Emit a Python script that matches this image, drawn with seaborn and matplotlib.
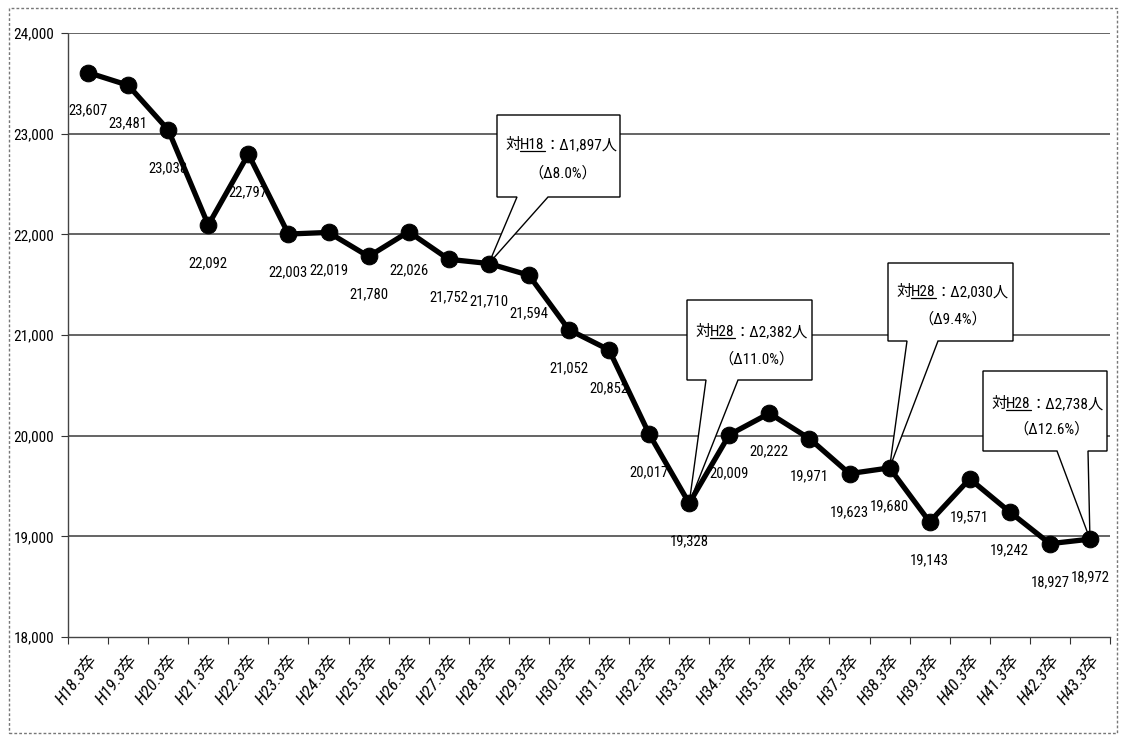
import os
import matplotlib
matplotlib.use('Agg')
import matplotlib.pyplot as plt
import seaborn as sns
import pandas as pd
import numpy as np
from matplotlib import font_manager
from matplotlib.patches import Polygon, Rectangle
from matplotlib.lines import Line2D

# ---------------- data ----------------
categories = ["H18.3卒", "H19.3卒", "H20.3卒", "H21.3卒", "H22.3卒", "H23.3卒",
              "H24.3卒", "H25.3卒", "H26.3卒", "H27.3卒", "H28.3卒", "H29.3卒",
              "H30.3卒", "H31.3卒", "H32.3卒", "H33.3卒", "H34.3卒", "H35.3卒",
              "H36.3卒", "H37.3卒", "H38.3卒", "H39.3卒", "H40.3卒", "H41.3卒",
              "H42.3卒", "H43.3卒"]
values = [23607, 23481, 23038, 22092, 22797, 22003, 22019, 21780, 22026, 21752,
          21710, 21594, 21052, 20852, 20017, 19328, 20009, 20222, 19971, 19623,
          19680, 19143, 19571, 19242, 18927, 18972]
y_ticks = [18000, 19000, 20000, 21000, 22000, 23000, 24000]

callout_idx = [10, 15, 20, 25]
callout_base = ["H18", "H28", "H28", "H28"]
callout_diff = ["Δ1,897人", "Δ2,382人", "Δ2,030人", "Δ2,738人"]
callout_pct = ["（Δ8.0%）", "（Δ11.0%）", "（Δ9.4%）", "（Δ12.6%）"]

# ------------- layout (reference pixel coords) -------------
W, H = 1122, 736
# box: left, top, right, bottom, wedge base x1, x2, text-left, line1 baseline, line2 center x, line2 baseline
callout_layout = [
    (497, 115, 620, 197, 517, 548, 505, 149, 563, 178),
    (687, 300, 812, 380, 706, 738, 695, 336, 756, 364),
    (888, 263, 1013, 341, 907, 938, 896, 296, 953, 324),
    (983, 371, 1107, 451, 1057, 1088, 991, 408, 1052, 434),
]

sns.set_theme(style='white')

# ---- look for a condensed / narrow sans font ----
pref = ['liberation sans narrow', 'roboto condensed', 'open sans condensed',
        'noto sans', 'dejavu sans', 'open sans', 'roboto', 'lato', 'inter']
cands = []
for f in font_manager.fontManager.ttflist:
    low = (f.name + ' ' + os.path.basename(f.fname)).lower()
    st = str(f.stretch)
    if f.style != 'normal' or 'mono' in low or 'cjk' in low:
        continue
    if f.weight not in (400, 'normal', 'regular', 'book'):
        continue
    if 'narrow' in low or 'condensed' in low or st in ('condensed', 'semi-condensed', 'extra-condensed'):
        rank = len(pref)
        for r, p in enumerate(pref):
            if f.name.lower().startswith(p):
                rank = r
                break
        cands.append((rank, f.name, st))
cands.sort()
if cands:
    MAIN, STRETCH = cands[0][1], cands[0][2]
    if STRETCH in ('normal', '500', 'medium'):
        STRETCH = 'condensed'
    CONDENSED = True
else:
    MAIN, STRETCH, CONDENSED = 'Liberation Sans', 'normal', False

plt.rcParams['font.family'] = [MAIN, 'Noto Sans CJK JP', 'DejaVu Sans']
plt.rcParams['font.stretch'] = STRETCH

num_fs = 10.5 if CONDENSED else 9.5
tick_fs = 11 if CONDENSED else 10
xtick_fs = 12.5 if CONDENSED else 11
call_fs = 11 if CONDENSED else 10

fig = plt.figure(figsize=(W / 100, H / 100), dpi=100)
fig.patch.set_facecolor('white')
ax = fig.add_axes([68 / W, 1 - 637 / H, (1110 - 68) / W, (637 - 33) / H])
ax.set_facecolor('white')

df = pd.DataFrame({'x': np.arange(len(categories)), 'y': values})
sns.lineplot(data=df, x='x', y='y', ax=ax, color='black', lw=3.8,
             marker='o', markersize=12, markeredgecolor='black',
             markerfacecolor='black', zorder=5)

ax.set_xlim(-0.5, len(categories) - 0.5)
ax.set_ylim(y_ticks[0], y_ticks[-1])
ax.set_yticks(y_ticks)
ax.set_yticklabels([f"{v:,}" for v in y_ticks], fontsize=tick_fs, color='black')
ax.set_xticks(np.arange(len(categories)))
ax.set_xticklabels(categories, rotation=52, ha='right', rotation_mode='anchor',
                   fontstyle='italic', fontsize=xtick_fs, color='black')
ax.set_xticks(np.arange(-0.5, len(categories)), minor=True)
ax.tick_params(axis='x', which='major', bottom=True, length=0, pad=11)
ax.tick_params(axis='x', which='minor', bottom=True, length=5, width=0.8,
               color='#333333', direction='out')
ax.tick_params(axis='y', left=True, length=5, width=0.8, color='#333333',
               direction='out', pad=5)
ax.set_xlabel('')
ax.set_ylabel('')
ax.grid(False)
for v in y_ticks[1:]:
    ax.axhline(v, color='#3a3a3a', lw=1.1, zorder=1)
for s in ['top', 'right']:
    ax.spines[s].set_visible(False)
for s in ['left', 'bottom']:
    ax.spines[s].set_color('#444444')
    ax.spines[s].set_linewidth(1.0)
    ax.spines[s].set_linestyle((0, (2, 1)))

# data labels
for i, v in enumerate(values):
    ax.annotate(f"{v:,}", (i, v), xytext=(0, -27.5), textcoords='offset points',
                ha='center', va='center', fontsize=num_fs, color='black', zorder=6)

# figure border
fig.patches.append(Rectangle((9 / W, 1 - 733 / H), (1117 - 9) / W, (733 - 8) / H,
                             transform=fig.transFigure, fill=False,
                             edgecolor='#777777', lw=1.0, linestyle=(0, (2, 1.5))))

def pf(x, y):
    return x / W, 1 - y / H

renderer = fig.canvas.get_renderer()
for k, idx in enumerate(callout_idx):
    L, T, R, B, w1, w2, tx, by1, cx2, by2 = callout_layout[k]
    tip_disp = ax.transData.transform((idx, values[idx]))
    tip = fig.transFigure.inverted().transform(tip_disp)
    pts = [pf(L, T), pf(R, T), pf(R, B), pf(w2, B), tuple(tip), pf(w1, B), pf(L, B)]
    ax.add_patch(Polygon(pts, closed=True, transform=fig.transFigure,
                         facecolor='white', edgecolor='black', lw=1.0,
                         zorder=4, clip_on=False))
    x = tx
    for j, piece in enumerate(["対", callout_base[k], "：" + callout_diff[k]]):
        t = ax.text(*pf(x, by1), piece, transform=fig.transFigure, ha='left',
                    va='baseline', fontsize=call_fs, color='black', zorder=7)
        bb = t.get_window_extent(renderer)
        if j == 1:
            ax.add_line(Line2D([bb.x0 / W, bb.x1 / W],
                               [(H - by1 - 2) / H, (H - by1 - 2) / H],
                               transform=fig.transFigure, color='black', lw=0.9,
                               zorder=7, clip_on=False))
        x += bb.width
    ax.text(*pf(cx2, by2), callout_pct[k], transform=fig.transFigure,
            ha='center', va='baseline', fontsize=call_fs, color='black', zorder=7)

fig.savefig('out.png', dpi=100, facecolor='white')
